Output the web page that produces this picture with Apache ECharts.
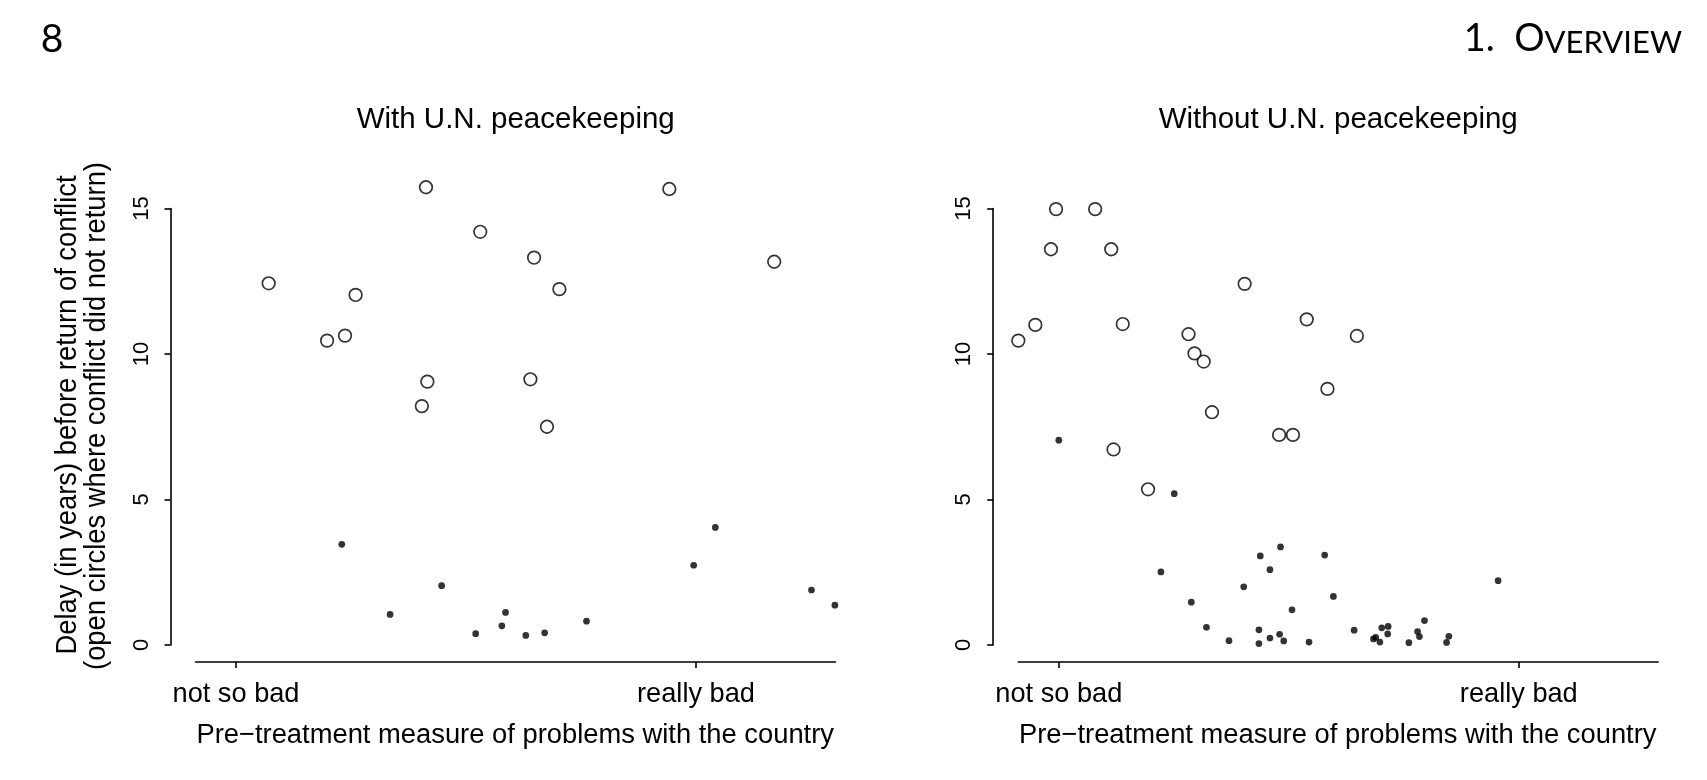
<!DOCTYPE html>
<html><head><meta charset="utf-8">
<script src="https://cdn.jsdelivr.net/npm/echarts@6/dist/echarts.min.js"></script>
<style>html,body{margin:0;padding:0;background:#fff;}#c{width:1707px;height:780px;}</style>
</head><body><div id="c"></div>
<script>
// ---- data ----
const panelTitles = ['With U.N. peacekeeping', 'Without U.N. peacekeeping'];
const xTickValues = [0, 1];
const xTickLabels = ['not so bad', 'really bad'];
const yTicks = [0, 5, 10, 15];
const xAxisTitle = 'Pre\u2212treatment measure of problems with the country';
const yAxisTitle1 = 'Delay (in years) before return of conflict';
const yAxisTitle2 = '(open circles where conflict did not return)';
const pageNumber = '8';
const chapterHead = ['1.  O', 'VERVIEW'];

const withOpenX = [0.071, 0.413, 0.942, 0.531, 0.648, 1.170, 0.703, 0.260, 0.237, 0.198, 0.416, 0.640, 0.404, 0.676];
const withOpenY = [12.43, 15.73, 15.67, 14.20, 13.31, 13.17, 12.23, 12.03, 10.63, 10.46, 9.05, 9.13, 8.21, 7.50];
const withDotX = [0.230, 0.335, 0.447, 0.521, 0.578, 0.586, 0.630, 0.671, 0.762, 0.995, 1.042, 1.251, 1.302];
const withDotY = [3.46, 1.05, 2.04, 0.39, 0.66, 1.12, 0.33, 0.42, 0.82, 2.74, 4.04, 1.89, 1.37];

const withoutOpenX = [-0.006, 0.079, -0.017, 0.114, 0.404, -0.088, -0.051, 0.139, 0.282, 0.295, 0.315, 0.539, 0.648, 0.584, 0.333, 0.479, 0.509, 0.119, 0.194];
const withoutOpenY = [14.98, 14.98, 13.60, 13.60, 12.41, 10.46, 11.00, 11.03, 10.68, 10.02, 9.74, 11.19, 10.62, 8.80, 8.00, 7.22, 7.22, 6.72, 5.35];
const withoutDotX = [0.000, 0.251, 0.222, 0.288, 0.321, 0.370, 0.402, 0.438, 0.459, 0.482, 0.507, 0.435, 0.435, 0.459, 0.480, 0.489, 0.544, 0.578, 0.597, 0.642, 0.684, 0.689, 0.698, 0.702, 0.716, 0.715, 0.761, 0.780, 0.784, 0.795, 0.843, 0.848, 0.955];
const withoutDotY = [7.04, 5.20, 2.51, 1.47, 0.61, 0.15, 2.00, 3.06, 2.59, 3.37, 1.21, 0.52, 0.05, 0.24, 0.37, 0.14, 0.10, 3.09, 1.67, 0.51, 0.21, 0.26, 0.10, 0.59, 0.64, 0.38, 0.08, 0.46, 0.29, 0.84, 0.09, 0.30, 2.21];

// ---- layout ----
const FONT = '"Liberation Sans", Arial, Helvetica, sans-serif';
const pxPerX = 460;
const xMin = -0.088, xMax = 1.303;
const pxPerY = 29.1;
const y0px = 645;
const yMin = -0.58, yMax = 16.5;
const tick0px = [236, 1058.8];
const yAxisPx = [170.5, 993.2];
const centers = [515.7, 1338.2];

const gridW = (xMax - xMin) * pxPerX;
const dataTop = y0px - yMax * pxPerY;
const dataH = (yMax - yMin) * pxPerY;
const axTop = y0px - yTicks[yTicks.length - 1] * pxPerY;
const axH = yTicks[yTicks.length - 1] * pxPerY;

const pairs = (xs, ys) => xs.map((x, i) => [x, ys[i]]);

const grids = [], xAxes = [], yAxes = [], series = [];
const lineStyle = { color: '#000', width: 1.6 };
[0, 1].forEach(p => {
  grids.push({ left: tick0px[p] + xMin * pxPerX, top: dataTop, width: gridW, height: dataH });
  xAxes.push({
    gridIndex: p, type: 'value', min: xMin, max: xMax, position: 'bottom',
    axisLine: { show: true, onZero: false, lineStyle },
    axisTick: { show: true, customValues: xTickValues, length: 6, lineStyle },
    axisLabel: { show: true, customValues: xTickValues, margin: 19, fontSize: 27.2, fontFamily: FONT, color: '#000',
      formatter: v => xTickLabels[xTickValues.indexOf(Math.round(v * 1000) / 1000)] || '' },
    splitLine: { show: false }
  });
  yAxes.push({ gridIndex: p, type: 'value', min: yMin, max: yMax, show: false });
});
[0, 1].forEach(p => {
  grids.push({ left: yAxisPx[p], top: axTop, width: 10, height: axH });
  xAxes.push({ gridIndex: 2 + p, type: 'value', min: 0, max: 1, show: false });
  yAxes.push({
    gridIndex: 2 + p, type: 'value', min: yTicks[0], max: yTicks[yTicks.length - 1], interval: 5,
    axisLine: { show: true, lineStyle },
    axisTick: { show: true, length: 6, lineStyle },
    axisLabel: { show: true, rotate: 90, margin: 18, fontSize: 22, fontFamily: FONT, color: '#000' },
    splitLine: { show: false }
  });
});

const openStyle = { color: '#fff', borderColor: '#000', borderWidth: 1.7 };
const dotStyle = { color: '#000' };
const sets = [[withOpenX, withOpenY, withDotX, withDotY], [withoutOpenX, withoutOpenY, withoutDotX, withoutDotY]];
sets.forEach((s, p) => {
  series.push({ type: 'scatter', xAxisIndex: p, yAxisIndex: p, data: pairs(s[0], s[1]), symbol: 'circle', symbolSize: 12.6, itemStyle: openStyle, clip: false, silent: true });
  series.push({ type: 'scatter', xAxisIndex: p, yAxisIndex: p, data: pairs(s[2], s[3]), symbol: 'circle', symbolSize: 6.7, itemStyle: dotStyle, clip: false, silent: true });
});

const txt = (x, y, text, size, extra) => Object.assign({ type: 'text', x, y, style: { text, fill: '#000', font: size + 'px ' + FONT, textAlign: 'center', textVerticalAlign: 'middle' } }, extra || {});
const graphics = [];
[0, 1].forEach(p => {
  graphics.push(txt(centers[p], 120, panelTitles[p], 29.5));
  graphics.push(txt(centers[p] - 0.5, 735, xAxisTitle, 27.35));
});
graphics.push(txt(67.5, 415, yAxisTitle1, 30, { rotation: Math.PI / 2, scaleX: 0.912 }));
graphics.push(txt(96.5, 416, yAxisTitle2, 30, { rotation: Math.PI / 2, scaleX: 0.912 }));
graphics.push({ type: 'text', x: 52, y: 39, style: { text: pageNumber, fill: '#000', font: '39px Lato, "Noto Sans", sans-serif', textAlign: 'center', textVerticalAlign: 'middle' } });
graphics.push({ type: 'text', x: 1682, y: 58, style: {
  text: '{a|' + chapterHead[0] + '}{b|' + chapterHead[1] + '}', textAlign: 'right', textVerticalAlign: 'bottom',
  rich: { a: { fontSize: 38, fontFamily: 'Lato', fill: '#000', verticalAlign: 'bottom' },
          b: { fontSize: 31, fontFamily: 'Lato', fill: '#000', verticalAlign: 'bottom' } } } });

const chart = echarts.init(document.getElementById('c'), null, { renderer: 'canvas' });
chart.setOption({
  animation: false, backgroundColor: '#fff',
  grid: grids, xAxis: xAxes, yAxis: yAxes, series, graphic: graphics
});
</script></body></html>
